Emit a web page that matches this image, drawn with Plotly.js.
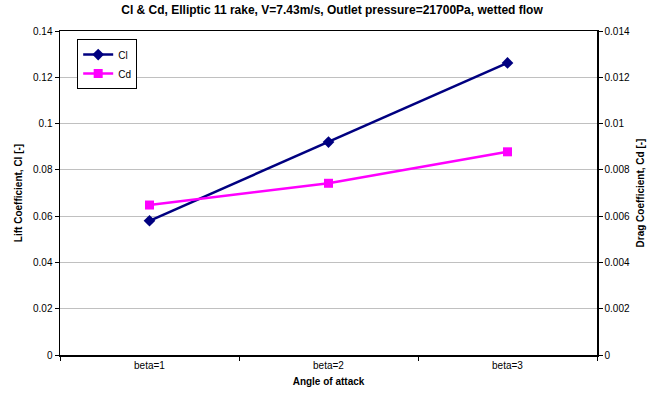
<!DOCTYPE html>
<html>
<head>
<meta charset="utf-8">
<script src="https://cdn.plot.ly/plotly-3.0.1.min.js"></script>
<style>html,body{margin:0;padding:0;background:#fff;}#chart{width:664px;height:396px;}</style>
</head>
<body>
<div id="chart"></div>
<script>
const categories = ["beta=1", "beta=2", "beta=3"];
const clValues = [0.0580, 0.0920, 0.1262];
const cdValues = [0.00648, 0.00742, 0.00878];
const leftTicks = [0, 0.02, 0.04, 0.06, 0.08, 0.1, 0.12, 0.14];
const rightTicks = [0, 0.002, 0.004, 0.006, 0.008, 0.01, 0.012, 0.014];

const font = "Liberation Sans, Arial, sans-serif";
const traces = [
  {x: categories, y: clValues, name: "Cl", type: "scatter", mode: "lines+markers",
   line: {color: "#000080", width: 2.5}, marker: {symbol: "diamond", size: 9, color: "#000080"}},
  {x: categories, y: cdValues, name: "Cd", type: "scatter", mode: "lines+markers", yaxis: "y2",
   line: {color: "#ff00ff", width: 2.5}, marker: {symbol: "square", size: 9, color: "#ff00ff"}}
];
const layout = {
  width: 664, height: 396,
  margin: {l: 60, r: 67, t: 31, b: 41},
  paper_bgcolor: "#fff", plot_bgcolor: "#fff",
  font: {family: font, size: 10, color: "#000"},
  title: {text: "<b>Cl & Cd, Elliptic 11 rake, V=7.43m/s, Outlet pressure=21700Pa, wetted flow</b>",
          font: {size: 12, family: font}, x: 0.5, xanchor: "center", y: 0.975, yanchor: "middle"},
  showlegend: true,
  legend: {x: 0.032, y: 0.975, xanchor: "left", yanchor: "top", bgcolor: "#fff",
           bordercolor: "#000", borderwidth: 1, font: {size: 10, family: font},
           tracegroupgap: 0, itemwidth: 30},
  xaxis: {type: "category", range: [-0.5, 2.5], showgrid: false, showline: true, linecolor: "#000",
          linewidth: 1.5, mirror: true, ticks: "outside", ticklen: 4, tickcolor: "#000",
          tickson: "boundaries", tickfont: {size: 10}, zeroline: false,
          title: {text: "<b>Angle of attack</b>", font: {size: 10}, standoff: 8}},
  yaxis: {range: [0, 0.14], tickvals: leftTicks, ticktext: leftTicks.map(String),
          showgrid: true, gridcolor: "#c0c0c0", gridwidth: 1, showline: true, linecolor: "#000", linewidth: 1.5,
          ticks: "outside", ticklen: 4, tickcolor: "#000", zeroline: false, tickfont: {size: 10},
          title: {text: "<b>Lift Coefficient, Cl [-]</b>", font: {size: 10}, standoff: 8}},
  yaxis2: {range: [0, 0.014], tickvals: rightTicks, ticktext: rightTicks.map(String),
           overlaying: "y", side: "right", showgrid: false, showline: true, linecolor: "#000", linewidth: 1.5,
           ticks: "outside", ticklen: 4, tickcolor: "#000", zeroline: false, tickfont: {size: 10},
           title: {text: "<b>Drag Coefficient, Cd [-]</b>", font: {size: 10}, standoff: 8}}
};
Plotly.newPlot("chart", traces, layout, {displayModeBar: false, staticPlot: true});
</script>
</body>
</html>
